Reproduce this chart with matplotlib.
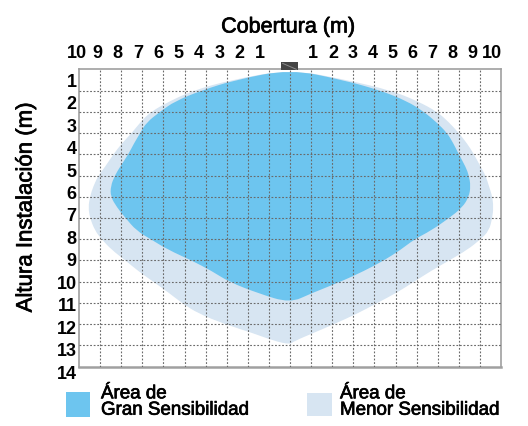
import matplotlib
matplotlib.use("Agg")
import matplotlib.pyplot as plt
import matplotlib.patheffects as pe
from matplotlib.path import Path
from matplotlib.patches import PathPatch, Rectangle

plt.rcParams['font.family'] = ['Liberation Sans', 'DejaVu Sans']

# Coverage outlines: lateral distance (m) vs. installation height (m)
gran_x = [0, 2.5, 4.3, 5.55, 6.35, 6.95, 7.45, 7.75, 8.0, 8.33, 8.48, 8.56, 8.48, 8.17,
          7.55, 6.67, 5.9, 5.24, 4.45, 3.5, 2.4, 1.0, 0,
          -1.5, -2.9, -3.7, -4.66, -5.77, -6.6, -7.27, -7.8, -8.2, -8.5, -8.5, -8.3,
          -8.06, -7.66, -7.4, -7.1, -6.8, -6.16, -5.45, -4.2, -2.6]
gran_y = [0, 0.5, 1.0, 1.5, 2.0, 2.5, 3.0, 3.5, 4.0, 4.6, 5.0, 5.5, 6.0, 6.5,
          7.0, 7.6, 8.0, 8.5, 9.0, 9.5, 10.0, 10.55, 11.0,
          10.55, 10.0, 9.5, 9.0, 8.5, 8.0, 7.6, 7.0, 6.5, 6.0, 5.5, 5.0,
          4.6, 4.0, 3.5, 3.0, 2.5, 2.0, 1.5, 1.0, 0.5]

menor_x = [0, 2.7, 4.8, 6.05, 6.98, 7.54, 8.0, 8.4, 8.72, 9.04, 9.27, 9.43, 9.59, 9.64,
           9.59, 9.43, 9.04, 8.4, 7.54, 6.67, 5.88, 5.09, 4.14, 3.19, 2.08, 1.14, 0.19, 0,
           -0.71, -1.82, -3.08, -4.34, -5.13, -5.77, -6.48, -7.19, -7.8, -8.45, -8.93,
           -9.24, -9.48, -9.56, -9.48, -9.32, -9.08, -8.77, -8.37, -7.98, -7.5, -7.1,
           -6.6, -5.7, -4.6, -2.8]
menor_y = [0, 0.5, 1.0, 1.5, 2.0, 2.5, 3.0, 3.5, 4.0, 4.6, 5.0, 5.5, 6.0, 6.5,
           7.0, 7.6, 8.0, 8.5, 9.0, 9.5, 10.0, 10.5, 11.0, 11.5, 12.0, 12.4, 12.8, 12.95,
           12.8, 12.4, 12.0, 11.5, 11.0, 10.5, 10.0, 9.5, 9.0, 8.5, 8.0,
           7.6, 7.0, 6.5, 6.0, 5.5, 5.0, 4.6, 4.0, 3.5, 3.0, 2.5,
           2.0, 1.5, 1.0, 0.5]

cover_labels = [str(v) for v in range(1, 11)]
height_labels = [str(v) for v in range(1, 15)]

label_gran = "Área de\nGran Sensibilidad"
label_menor = "Área de\nMenor Sensibilidad"

color_gran = "#6dc5ef"
color_menor = "#d7e5f2"


def smooth_closed_path(xs, ys):
    """Closed quadratic B-spline through the midpoints of the outline vertices."""
    pts = list(zip(xs, ys))
    n = len(pts)
    mids = [((pts[i][0] + pts[(i + 1) % n][0]) / 2, (pts[i][1] + pts[(i + 1) % n][1]) / 2)
            for i in range(n)]
    verts = [mids[-1]]
    codes = [Path.MOVETO]
    for i in range(n):
        verts += [pts[i], mids[i]]
        codes += [Path.CURVE3, Path.CURVE3]
    verts.append(mids[-1])
    codes.append(Path.CLOSEPOLY)
    return Path(verts, codes)


W, H = 528, 426
fig = plt.figure(figsize=(W / 100, H / 100), dpi=100)
ax = fig.add_axes([79 / W, 1 - 366.7 / H, 422 / W, 297.4 / H])

ax.set_xlim(-10, 10)
ax.set_ylim(14, 0)

ax.add_patch(PathPatch(smooth_closed_path(menor_x, menor_y), facecolor=color_menor,
                       edgecolor='none', zorder=1))
ax.add_patch(PathPatch(smooth_closed_path(gran_x, gran_y), facecolor=color_gran,
                       edgecolor='none', zorder=2))

# dotted 1 m grid drawn over the areas
grid_kw = dict(color='#6a6a6a', lw=0.8, ls=(0, (1.6, 1.6)), zorder=3)
for gx in range(-9, 10):
    ax.axvline(gx, **grid_kw)
for gy in range(1, 14):
    ax.axhline(gy, **grid_kw)

# sensor head
ax.add_patch(Rectangle((-0.45, -0.34), 0.85, 0.37, facecolor='#444444',
                       edgecolor='none', zorder=5, clip_on=False))
ax.plot([-0.35, 0.3], [-0.28, 0.0], color='#8a8a8a', lw=0.7, zorder=6, clip_on=False)

for s in ax.spines.values():
    s.set_color('#a0a0a0')
    s.set_linewidth(1.2)
ax.spines['bottom'].set_linewidth(1.8)
ax.set_xticks([])
ax.set_yticks([])

# scale numbers along the top (both directions from the sensor) and down the left
xtrans = ax.get_xaxis_transform()
ytrans = ax.get_yaxis_transform()
num_kw = dict(fontsize=13, fontweight='bold', clip_on=False)
n = len(cover_labels)
for i, lab in enumerate(cover_labels):
    ax.text(-(0.963 * (i + 1) + 0.457), 1.0 + 15.5 / 297.4, lab, transform=xtrans,
            ha='center', va='center', **num_kw)
    ax.text(0.942 * (i + 1) + 0.148, 1.0 + 15.5 / 297.4, lab, transform=xtrans,
            ha='center', va='center', **num_kw)
for i, lab in enumerate(height_labels):
    ax.text(-2.5 / 422, 1.056 * (i + 1) - 0.44, lab, transform=ytrans,
            ha='right', va='center', **num_kw)

heavy = [pe.withStroke(linewidth=0.5, foreground='black')]
fig.text(288 / W, 1 - 27 / H, "Cobertura (m)", ha='center', va='center', fontsize=15.5,
         path_effects=heavy)
fig.text(26 / W, 1 - 207 / H, "Altura Instalación (m)", ha='center', va='center',
         rotation=90, fontsize=16, path_effects=heavy)

# legend
fig.patches.append(Rectangle((66 / W, 1 - 417 / H), 24 / W, 25 / H, facecolor=color_gran,
                             edgecolor='none', transform=fig.transFigure, figure=fig))
fig.patches.append(Rectangle((307 / W, 1 - 416 / H), 25 / W, 23 / H, facecolor=color_menor,
                             edgecolor='none', transform=fig.transFigure, figure=fig))
fig.text(101 / W, 1 - 402 / H, label_gran, ha='left', va='center', fontsize=13.5,
         linespacing=0.95, path_effects=heavy)
fig.text(340 / W, 1 - 402 / H, label_menor, ha='left', va='center', fontsize=13.5,
         linespacing=0.95, path_effects=heavy)

fig.savefig("out.png", dpi=100)
